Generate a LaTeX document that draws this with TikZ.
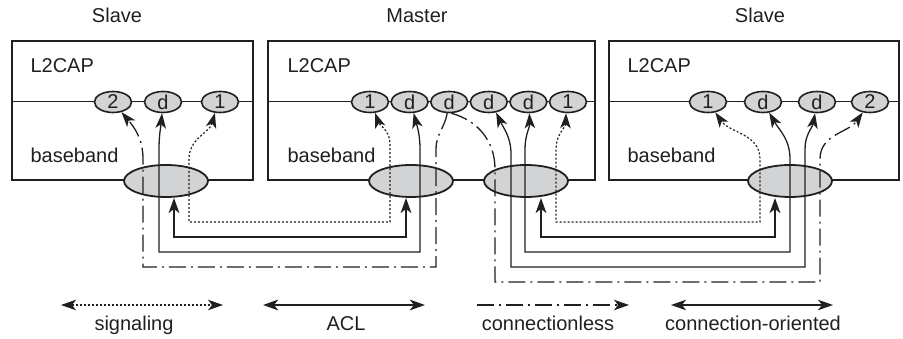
\documentclass[tikz,border=0pt]{standalone}
\usepackage{fontspec}
\setmainfont{Liberation Sans}
\usepackage{tikz}
\usetikzlibrary{arrows.meta,positioning,shapes.geometric}
\definecolor{ink}{HTML}{231F20}
\definecolor{cell}{HTML}{D1D3D4}
\tikzset{
  every node/.style={font=\fontsize{20}{23}\selectfont,text=ink},
  dev/.style={draw=ink,line width=1.8pt,fill=white,inner sep=0pt},
  port/.style={ellipse,draw=ink,line width=1.6pt,fill=cell,inner sep=0pt,
               minimum width=37pt,minimum height=21pt},
  bb/.style={ellipse,draw=ink,line width=1.8pt,fill=cell,inner sep=0pt,
             minimum width=84pt,minimum height=32pt},
  tip/.style={>={Stealth[length=15pt,width=10.5pt,inset=4pt]}},
  sigw/.style={tip,draw=ink,line width=1.2pt,dash pattern=on 2pt off 2pt},
  aclw/.style={tip,draw=ink,line width=2.8pt},
  cow/.style={tip,draw=ink,line width=1.3pt},
  clw/.style={tip,draw=ink,line width=1.3pt,dash pattern=on 17pt off 5pt on 2pt off 5pt},
  lab/.style={anchor=base},
  side/.style={anchor=base west},
}

\begin{document}
\begin{tikzpicture}[x=1pt,y=1pt]
\useasboundingbox (0,0) rectangle (903,339);

% the three devices
\node[dev,minimum width=241pt,minimum height=139pt] (slaveL) at (132.5,228.5) {};
\node[dev,minimum width=327pt,minimum height=139pt] (master) at (431.5,228.5) {};
\node[dev,minimum width=290pt,minimum height=139pt] (slaveR) at (754,228.5) {};
\foreach \d in {slaveL,master,slaveR}
  \draw[ink,line width=1pt] ([yshift=8.5pt]\d.west) -- ([yshift=8.5pt]\d.east);

\node[lab] (hSL) at (117,316) {Slave};
\node[lab] (hM) at (417,316) {Master};
\node[lab] (hSR) at (760,316) {Slave};

\node[side] (l2L) at (27,266) {L2CAP};
\node[side] (l2M) at (284,266) {L2CAP};
\node[side] (l2R) at (624,266) {L2CAP};
\node[side] (bbL) at (27,176) {baseband};
\node[side] (bbM) at (284,176) {baseband};
\node[side] (bbR) at (624,176) {baseband};

% channel end points
\node[port] (lA2) at (113,237) {2};
\node[port] (lAd) at (163,237) {d};
\node[port] (lA1) at (220,237) {1};

\node[port] (m1) at (370,237) {1};
\node[port,right=1pt of m1] (mdA) {d};
\node[port,right=1pt of mdA] (mdB) {d};
\node[port,right=1pt of mdB] (mdC) {d};
\node[port,right=1pt of mdC] (mdD) {d};
\node[port,right=1pt of mdD] (m1b) {1};

\node[port] (r1) at (708,237) {1};
\node[port] (rdA) at (763,237) {d};
\node[port] (rdB) at (817,237) {d};
\node[port] (r2) at (870,237) {2};

% baseband links
\node[bb] (lbb) at (166,158) {};
\node[bb] (mbbA) at (411,158) {};
\node[bb] (mbbB) at (526,158) {};
\node[bb] (rbb) at (790,158) {};

% signaling
\draw[sigw,<->] (lA1.-115) to[out=-105,in=90] (189,180) -- (189,117)
  -- (390,117) -- (390,195) to[out=90,in=-70] (m1.-65);
\draw[sigw,<->] (m1b.-100) to[out=-92,in=90] (556,190) -- (556,117)
  -- (760,117) -- (760,180) to[out=90,in=-55] (r1.-55);

% ACL
\draw[aclw,<->] ([xshift=8pt]lbb.south) -- (174,102) -- (406,102) -- ([xshift=-5pt]mbbA.south);
\draw[aclw,<->] ([xshift=15pt]mbbB.south) -- (541,102) -- (775,102) -- ([xshift=-15pt]rbb.south);

% connection-oriented
\draw[cow,<->] (lAd.-95) to[out=-95,in=90] (159,190) -- (159,87)
  -- (420,87) -- (420,190) to[out=90,in=-75] (mdA.-70);
\draw[cow,<->] (mdC.-55) to[out=-65,in=90] (511,185) -- (511,72)
  -- (805,72) -- (805,190) to[out=90,in=-100] (rdB.-100);
\draw[cow,<->] (mdD.-85) to[out=-88,in=90] (525,190) -- (525,87)
  -- (790,87) -- (790,180) to[out=90,in=-60] (rdA.-60);

% connectionless
\draw[clw,->] (mdB.-100) to[out=-100,in=90] (436,190) -- (436,72)
  -- (143,72) -- (143,180) to[out=90,in=-50] (lA2.-50);
\draw[clw,->] (mdB.-80) to[out=-15,in=90] (495,170) -- (495,57)
  -- (820,57) -- (820,180) to[out=90,in=-125] (r2.-125);

% legend
\coordinate (sigL) at (61,34);
\coordinate (sigR) at (223,34);
\coordinate (aclL) at (263,34);
\coordinate (aclR) at (425,34);
\coordinate (clL) at (477,34);
\coordinate (clR) at (629,34);
\coordinate (coL) at (671,34);
\coordinate (coR) at (833,34);
\draw[sigw,<->] (sigL) -- (sigR);
\draw[aclw,<->] (aclL) -- (aclR);
\draw[clw,->] (clL) -- (clR);
\draw[cow,<->] (coL) -- (coR);
\node[lab] (tSig) at (134,8) {signaling};
\node[lab] (tAcl) at (346,8) {ACL};
\node[lab] (tCl) at (548,8) {connectionless};
\node[lab] (tCo) at (753,8) {connection-oriented};
\end{tikzpicture}
\end{document}
